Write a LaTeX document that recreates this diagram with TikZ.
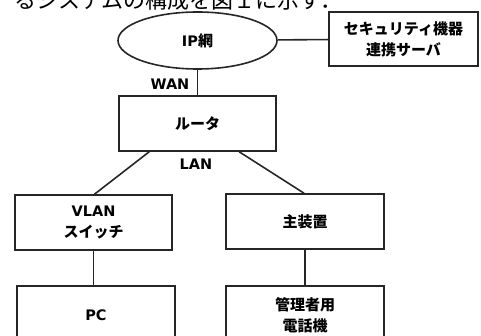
\documentclass[tikz,border=0pt]{standalone}
\usepackage{fontspec}
\setmainfont{DejaVu Sans}
\newfontfamily\jp{Noto Sans CJK JP}
\usetikzlibrary{shapes.geometric}
\tikzset{
  box/.style={draw=black!85, line width=1.6pt, rectangle, inner sep=0pt, align=center,
    font=\fontsize{14.5}{21}\selectfont\bfseries},
  conn/.style={draw=black!85, line width=1.6pt},
  lbl/.style={inner sep=0pt, font=\fontsize{14.5}{20}\selectfont\bfseries},
}
\newcommand{\jb}[1]{{\jp\bfseries\fontsize{15}{21}\selectfont #1}}
\begin{document}
\begin{tikzpicture}[x=1pt,y=-1pt]
\useasboundingbox (0,0) rectangle (481,336);
\clip (0,0) rectangle (481,336);
\node[anchor=base west, inner sep=0pt, font=\jp\fontsize{22}{22}\selectfont] (intro) at (14,9) {るシステムの構成を図１に示す．};
\node[box, ellipse, minimum width=159pt, minimum height=57pt] (ip) at (197.5,40.5) {IP\jb{網}};
\node[box, minimum width=149pt, minimum height=54pt] (sec) at (403.5,39) {\jb{セキュリティ機器}\\\jb{連携サーバ}};
\node[box, minimum width=157pt, minimum height=55pt] (router) at (197.5,123.5) {\jb{ルータ}};
\node[box, minimum width=157pt, minimum height=55pt] (vlan) at (93.5,222.5) {VLAN\\\jb{スイッチ}};
\node[box, minimum width=158pt, minimum height=55pt] (main) at (305,221.5) {\jb{主装置}};
\node[box, minimum width=158pt, minimum height=58pt] (pc) at (96,315) {PC};
\node[box, minimum width=158pt, minimum height=58pt] (tel) at (305,315) {\jb{管理者用}\\\jb{電話機}};
\node[lbl] (wan) at (170,84) {WAN};
\node[lbl] (lan) at (196,164) {LAN};
\draw[conn] (ip) -- (sec);
\draw[conn] (ip.south) -- (router.north);
\draw[conn] ([xshift=31pt]router.south west) -- ([xshift=1pt]vlan.north);
\draw[conn] ([xshift=121pt]router.south west) -- ([xshift=-1pt]main.north);
\draw[conn] (vlan.south) -- (vlan.south |- pc.north);
\draw[conn] (main.south) -- (tel.north);
\end{tikzpicture}
\end{document}
